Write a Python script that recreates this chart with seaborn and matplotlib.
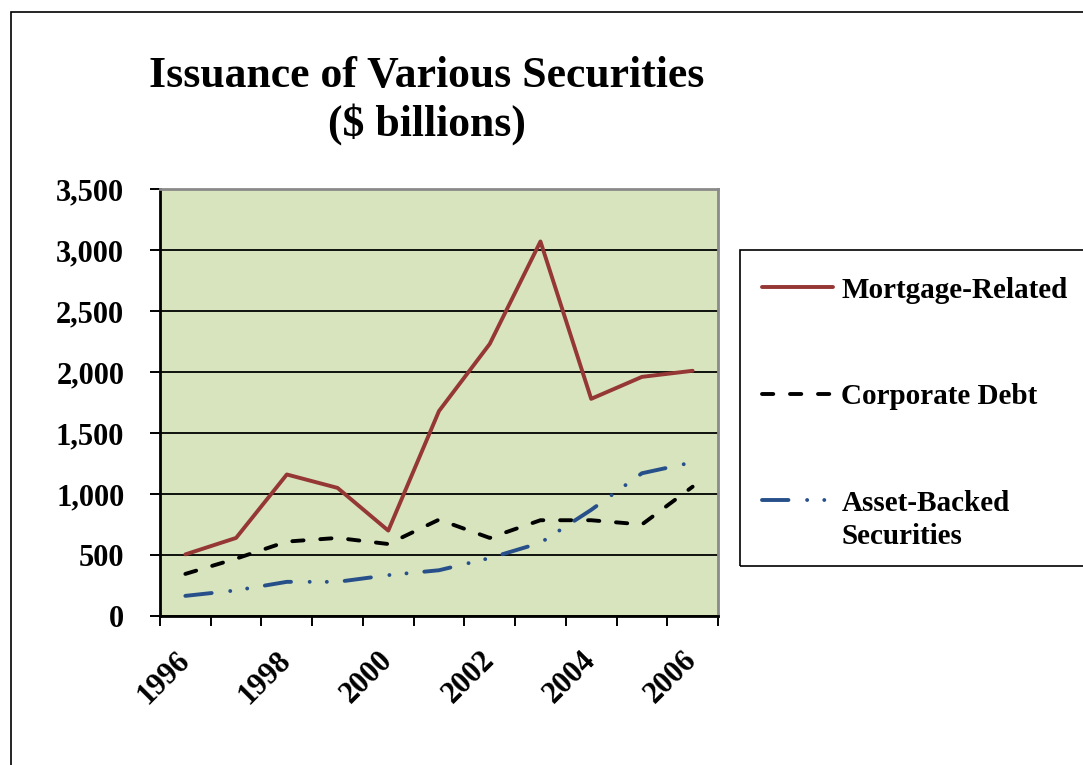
import numpy as np
import pandas as pd
import matplotlib
matplotlib.use("Agg")
import matplotlib.pyplot as plt
import seaborn as sns
from matplotlib.ticker import FuncFormatter
from matplotlib.patches import Rectangle

# ---- data ($ billions) ----
years = list(range(1996, 2007))
mortgage = [505, 640, 1160, 1050, 700, 1680, 2230, 3070, 1780, 1960, 2010]
corporate = [345, 470, 610, 640, 590, 790, 640, 785, 785, 750, 1060]
asset_backed = [165, 210, 280, 280, 335, 375, 475, 600, 870, 1170, 1260]
series_names = ["Mortgage-Related", "Corporate Debt", "Asset-Backed\nSecurities"]
xtick_years = [1996, 1998, 2000, 2002, 2004, 2006]
yticks = [0, 500, 1000, 1500, 2000, 2500, 3000, 3500]
title = "Issuance of Various Securities\n($ billions)"

df = pd.DataFrame({
    "Year": years * 3,
    "Value": mortgage + corporate + asset_backed,
    "Series": [series_names[0]] * len(years) + [series_names[1]] * len(years)
              + [series_names[2]] * len(years),
})

sns.set_style("ticks")
plt.rcParams["font.family"] = ["Liberation Serif", "DejaVu Serif"]
plt.rcParams["font.weight"] = "bold"
plt.rcParams["text.color"] = "black"
plt.rcParams["axes.labelcolor"] = "black"
plt.rcParams["xtick.color"] = "black"
plt.rcParams["ytick.color"] = "black"
plt.rcParams["lines.dash_capstyle"] = "round"
plt.rcParams["lines.solid_joinstyle"] = "round"

W, H = 1083, 765
fig = plt.figure(figsize=(W / 100, H / 100), dpi=100)
fig.patch.set_facecolor("white")

# outer chart border (cropped on right / bottom)
fig.patches.append(Rectangle((11 / W, -0.05), 1.2, 1 - 12 / H + 0.05,
                             transform=fig.transFigure, fill=False,
                             edgecolor="black", linewidth=1.2))

L, R, T, B = 160, 718, 189, 616
ax = fig.add_axes([L / W, (H - B) / H, (R - L) / W, (B - T) / H])
ax.set_facecolor("#D7E4BD")

palette = {series_names[0]: "#953735", series_names[1]: "#000000",
           series_names[2]: "#27508A"}
dashes = {series_names[0]: "",
          series_names[1]: (2.9, 4.3),
          series_names[2]: (6.8, 4.8, 0.01, 4.4, 0.01, 4.6)}

sns.lineplot(data=df, x="Year", y="Value", hue="Series", style="Series",
             palette=palette, dashes=dashes, linewidth=2.8, ax=ax,
             legend=True, sort=False)

handles, labels = ax.get_legend_handles_labels()
ax.get_legend().remove()

ax.set_xlim(1995.5, 2006.5)
ax.set_ylim(0, 3500)
ax.set_xlabel("")
ax.set_ylabel("")

ax.set_yticks(yticks)
ax.yaxis.set_major_formatter(FuncFormatter(lambda v, p: f"{int(v):,}"))
ax.set_xticks(xtick_years)
ax.set_xticklabels([str(y) for y in xtick_years])
ax.set_xticks(np.arange(1995.5, 2007, 1.0), minor=True)

ax.tick_params(axis="y", which="major", direction="out", length=7.2, width=1.4,
               color="black", pad=18.5, labelsize=22, labelcolor="black")
ax.tick_params(axis="x", which="major", length=0, pad=29, labelsize=22,
               labelcolor="black")
ax.tick_params(axis="x", which="minor", direction="out", length=7.2, width=1.4,
               color="black")
for lab in ax.get_xticklabels():
    lab.set_rotation(45)
    lab.set_ha("right")
    lab.set_va("center")
    lab.set_rotation_mode("anchor")
for lab in ax.get_yticklabels() + ax.get_xticklabels():
    lab.set_fontweight("bold")

ax.yaxis.grid(True, color="black", linewidth=1.3)
ax.xaxis.grid(False)
ax.set_axisbelow(True)
for s in ["left", "bottom"]:
    ax.spines[s].set_color("black")
    ax.spines[s].set_linewidth(2.0)
for s in ["top", "right"]:
    ax.spines[s].set_color("#8A8A8A")
    ax.spines[s].set_linewidth(2.0)
    ax.spines[s].set_visible(True)

fig.text(427 / W, 1 - 56 / H, title, ha="center", va="top", fontsize=31.5,
         fontweight="bold", linespacing=1.22, color="black")

# legend frame (cropped on the right)
fig.patches.append(Rectangle((740 / W, (H - 566) / H), 0.4, (566 - 250) / H,
                             transform=fig.transFigure, fill=False,
                             edgecolor="black", linewidth=1.2))
leg = fig.legend(handles, labels, loc="upper left",
                 bbox_to_anchor=(762 / W, 1 - 277 / H), frameon=False,
                 handlelength=2.45, handletextpad=0.27,
                 labelspacing=2.72, borderpad=0, borderaxespad=0,
                 prop={"weight": "bold", "size": 21})
for t in leg.get_texts():
    t.set_linespacing(1.3)
    t.set_color("black")
for col in leg._legend_handle_box.get_children():
    for hp in col.get_children():
        hp.align = "top"

fig.savefig("out.png", dpi=100)
